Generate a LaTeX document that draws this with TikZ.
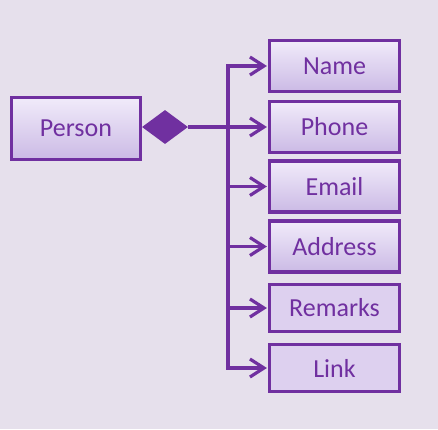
\documentclass[tikz,border=0pt]{standalone}
\usepackage{fontspec}
\setmainfont{Carlito}
\usetikzlibrary{shapes.geometric,arrows.meta}
\definecolor{pur}{HTML}{7030A0}
\definecolor{bg}{HTML}{E6E0EC}
\definecolor{gtop}{HTML}{F1EBFA}
\definecolor{gbot}{HTML}{CBBAE5}
\definecolor{flat}{HTML}{DDD0EF}
\tikzset{
  box/.style={draw=pur, line width=3.2pt, inner sep=0pt, text=pur,
    font=\fontsize{26}{30}\selectfont},
  gbox/.style={box, top color=gtop, bottom color=gbot},
  fbox/.style={box, fill=flat},
  conn/.style={draw=pur, line width=3.2pt},
  arr/.style={conn, -{Straight Barb[length=14pt, width=18pt, line width=3.2pt]}},
}
\begin{document}
\begin{tikzpicture}[x=1pt, y=-1pt]
\fill[bg] (0,0) rectangle (438,429);
\useasboundingbox (0,0) rectangle (438,429);
\node[gbox, minimum width=129pt, minimum height=62pt] (person) at (76,128.5) {Person};
\node[diamond, fill=pur, inner sep=0pt, minimum width=46pt, minimum height=34pt] (dia) at (165,127) {};
\node[gbox, minimum width=130pt, minimum height=51pt] (name) at (334.5,66) {Name};
\node[gbox, minimum width=130pt, minimum height=51pt] (phone) at (334.5,127) {Phone};
\node[gbox, minimum width=130pt, minimum height=51pt] (email) at (334.5,186.5) {Email};
\node[gbox, minimum width=130pt, minimum height=51pt] (address) at (334.5,246.5) {Address};
\node[fbox, minimum width=130pt, minimum height=47pt] (remarks) at (334.5,308) {Remarks};
\node[fbox, minimum width=130pt, minimum height=47pt] (link) at (334.5,368) {Link};
\coordinate (t) at (228,127);
\draw[conn] (dia.east) -- (t);
\draw[conn, line cap=rect] (t |- name.west) -- (t |- link.west);
\foreach \n in {name,phone,email,address,remarks,link}{
  \draw[arr] (t |- \n.west) -- ([xshift=-1pt]\n.west);
}
\end{tikzpicture}
\end{document}
